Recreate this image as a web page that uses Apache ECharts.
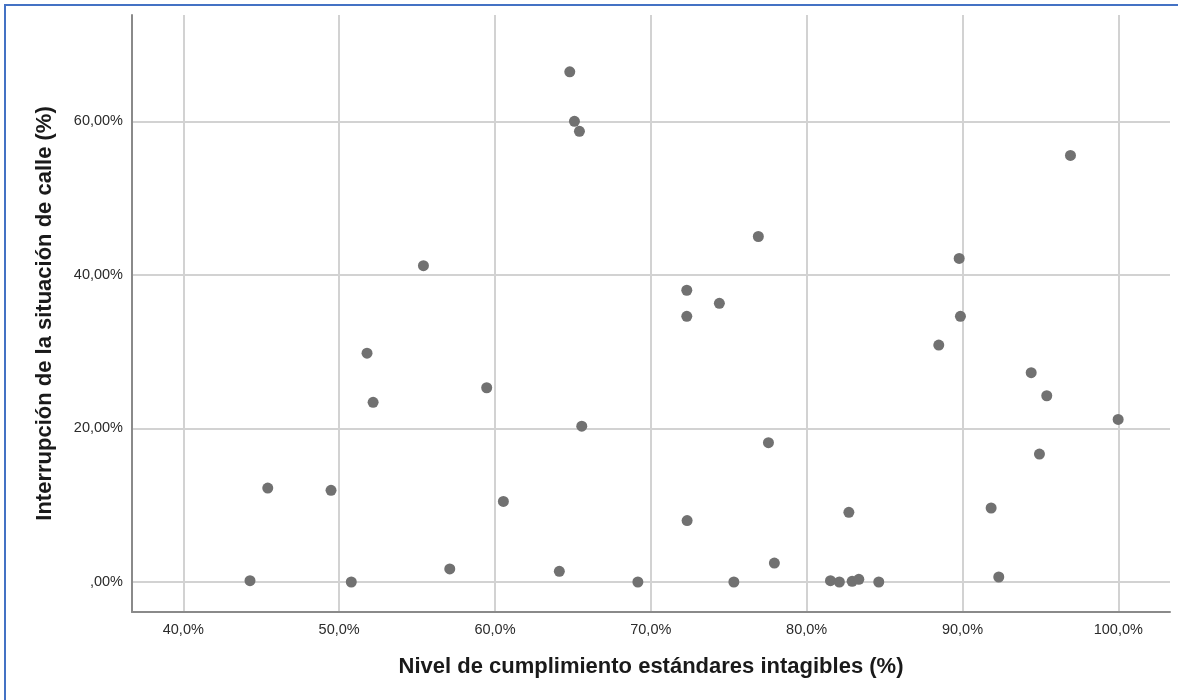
<!DOCTYPE html>
<html>
<head>
<meta charset="utf-8">
<script src="https://cdn.jsdelivr.net/npm/echarts@6/dist/echarts.min.js"></script>
<style>
  html, body { margin: 0; padding: 0; background: #fff; }
  #wrap { position: relative; width: 1178px; height: 700px; overflow: hidden; }
  #chart { position: absolute; left: 0; top: 0; width: 1178px; height: 700px; }
  #frame { position: absolute; left: 4px; top: 4px; width: 1200px; height: 800px;
           border-left: 2px solid #4472c4; border-top: 2px solid #4472c4; pointer-events: none; }
</style>
</head>
<body>
<div id="wrap">
  <div id="chart"></div>
  <div id="frame"></div>
</div>
<script>
// Nivel de cumplimiento estándares intagibles (%)
const xValues = [44.28, 45.42, 49.48, 50.78, 51.79, 52.18, 55.41, 57.10, 59.47, 60.54,
                 64.13, 64.80, 65.10, 65.42, 65.57, 69.17, 72.31, 72.31, 72.33, 74.40,
                 76.90, 75.33, 77.55, 77.93, 81.53, 82.10, 82.92, 83.35, 84.63, 82.71,
                 88.48, 89.79, 89.87, 91.84, 92.33, 94.41, 95.41, 94.94, 96.93, 99.99];
// Interrupción de la situación de calle (%)
const yValues = [0.17, 12.24, 11.94, 0.00, 29.80, 23.40, 41.20, 1.70, 25.30, 10.50,
                 1.39, 66.45, 60.00, 58.70, 20.30, 0.00, 38.00, 34.60, 8.00, 36.30,
                 45.00, 0.00, 18.14, 2.47, 0.17, 0.00, 0.09, 0.35, 0.00, 9.07,
                 30.86, 42.15, 34.60, 9.64, 0.65, 27.26, 24.26, 16.67, 55.56, 21.18];

const xTicks = [40, 50, 60, 70, 80, 90, 100];
const xTickLabels = ['40,0%', '50,0%', '60,0%', '70,0%', '80,0%', '90,0%', '100,0%'];
const yTicks = [0, 20, 40, 60];
const yTickLabels = [',00%', '20,00%', '40,00%', '60,00%'];

const xTitle = 'Nivel de cumplimiento estándares intagibles (%)';
const yTitle = 'Interrupción de la situación de calle (%)';

function labelFor(ticks, labels) {
  return function (v) {
    for (let i = 0; i < ticks.length; i++) {
      if (Math.abs(v - ticks[i]) < 1e-6) return labels[i];
    }
    return '';
  };
}

const points = xValues.map((x, i) => [x, yValues[i]]);

const chart = echarts.init(document.getElementById('chart'), null, { renderer: 'canvas' });
chart.setOption({
  animation: false,
  backgroundColor: '#ffffff',
  grid: { left: 132, right: 8, top: 15, bottom: 88, containLabel: false, outerBoundsMode: 'none' },
  xAxis: {
    type: 'value',
    min: 36.708, max: 103.318,
    minInterval: 10, maxInterval: 10,
    name: xTitle,
    nameLocation: 'middle',
    nameGap: 44,
    nameTextStyle: { fontFamily: 'Liberation Sans', fontSize: 22, fontWeight: 'bold', color: '#1a1a1a' },
    axisLine: { show: true, onZero: false, lineStyle: { color: '#8a8a8a', width: 2 } },
    axisTick: { show: false },
    axisLabel: { showMinLabel: false, showMaxLabel: false, margin: 10,
                 fontFamily: 'Liberation Sans', fontSize: 14.5, color: '#2b2b2b',
                 formatter: labelFor(xTicks, xTickLabels) },
    splitLine: { show: true, showMinLine: false, showMaxLine: false, lineStyle: { color: '#d2d2d2', width: 2 } }
  },
  yAxis: {
    type: 'value',
    min: -3.907, max: 73.85,
    minInterval: 20, maxInterval: 20,
    name: yTitle,
    nameLocation: 'middle',
    nameGap: 76,
    nameTextStyle: { fontFamily: 'Liberation Sans', fontSize: 22, fontWeight: 'bold', color: '#1a1a1a' },
    axisLine: { show: true, onZero: false, lineStyle: { color: '#8a8a8a', width: 2 } },
    axisTick: { show: false },
    axisLabel: { showMinLabel: false, showMaxLabel: false, margin: 9,
                 fontFamily: 'Liberation Sans', fontSize: 14.5, color: '#2b2b2b',
                 formatter: labelFor(yTicks, yTickLabels) },
    splitLine: { show: true, showMinLine: false, showMaxLine: false, lineStyle: { color: '#d2d2d2', width: 2 } }
  },
  series: [{
    type: 'scatter',
    data: points,
    symbol: 'circle',
    symbolSize: 11,
    itemStyle: { color: '#717171', opacity: 1 },
    emphasis: { disabled: true }
  }]
});
</script>
</body>
</html>
